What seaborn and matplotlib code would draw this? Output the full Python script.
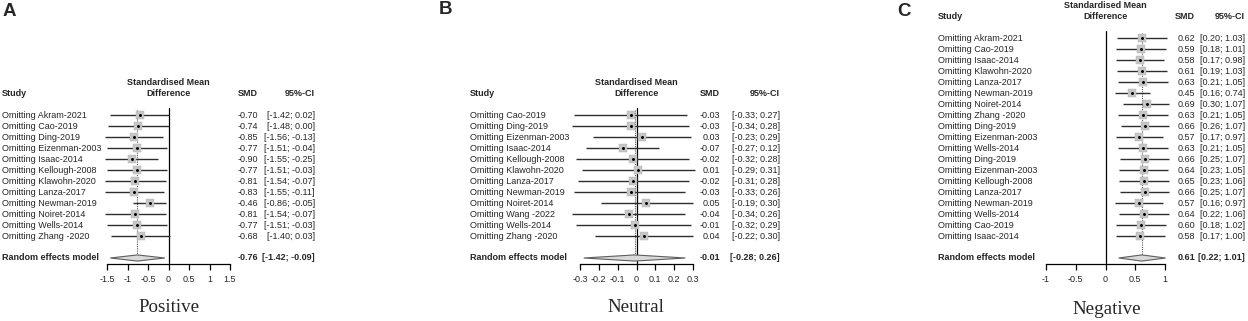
import numpy as np
import pandas as pd
import matplotlib
matplotlib.use("Agg")
import matplotlib.pyplot as plt
import seaborn as sns
from matplotlib.transforms import blended_transform_factory

# ---------------- data ----------------
a_studies = ["Akram-2021", "Cao-2019", "Ding-2019", "Eizenman-2003", "Isaac-2014",
             "Kellough-2008", "Klawohn-2020", "Lanza-2017", "Newman-2019",
             "Noiret-2014", "Wells-2014", "Zhang -2020"]
a_smd = [-0.70, -0.74, -0.85, -0.77, -0.90, -0.77, -0.81, -0.83, -0.46, -0.81, -0.77, -0.68]
a_lo = [-1.42, -1.48, -1.56, -1.51, -1.55, -1.51, -1.54, -1.55, -0.86, -1.54, -1.51, -1.40]
a_hi = [0.02, 0.00, -0.13, -0.04, -0.25, -0.03, -0.07, -0.11, -0.05, -0.07, -0.03, 0.03]
a_pooled = [-0.76, -1.42, -0.09]
a_ticks = [-1.5, -1, -0.5, 0, 0.5, 1, 1.5]

b_studies = ["Cao-2019", "Ding-2019", "Eizenman-2003", "Isaac-2014", "Kellough-2008",
             "Klawohn-2020", "Lanza-2017", "Newman-2019", "Noiret-2014", "Wang -2022",
             "Wells-2014", "Zhang -2020"]
b_smd = [-0.03, -0.03, 0.03, -0.07, -0.02, 0.01, -0.02, -0.03, 0.05, -0.04, -0.01, 0.04]
b_lo = [-0.33, -0.34, -0.23, -0.27, -0.32, -0.29, -0.31, -0.33, -0.19, -0.34, -0.32, -0.22]
b_hi = [0.27, 0.28, 0.29, 0.12, 0.28, 0.31, 0.28, 0.26, 0.30, 0.26, 0.29, 0.30]
b_pooled = [-0.01, -0.28, 0.26]
b_ticks = [-0.3, -0.2, -0.1, 0, 0.1, 0.2, 0.3]

c_studies = ["Akram-2021", "Cao-2019", "Isaac-2014", "Klawohn-2020", "Lanza-2017",
             "Newman-2019", "Noiret-2014", "Zhang -2020", "Ding-2019", "Eizenman-2003",
             "Wells-2014", "Ding-2019", "Eizenman-2003", "Kellough-2008", "Lanza-2017",
             "Newman-2019", "Wells-2014", "Cao-2019", "Isaac-2014"]
c_smd = [0.62, 0.59, 0.58, 0.61, 0.63, 0.45, 0.69, 0.63, 0.66, 0.57,
         0.63, 0.66, 0.64, 0.65, 0.66, 0.57, 0.64, 0.60, 0.58]
c_lo = [0.20, 0.18, 0.17, 0.19, 0.21, 0.16, 0.30, 0.21, 0.26, 0.17,
        0.21, 0.25, 0.23, 0.23, 0.25, 0.16, 0.22, 0.18, 0.17]
c_hi = [1.03, 1.01, 0.98, 1.03, 1.05, 0.74, 1.07, 1.05, 1.07, 0.97,
        1.05, 1.07, 1.05, 1.06, 1.07, 0.97, 1.06, 1.02, 1.00]
c_pooled = [0.61, 0.22, 1.01]
c_ticks = [-1, -0.5, 0, 0.5, 1]

panel_titles = ["Positive", "Neutral", "Negative"]
panel_letters = ["A", "B", "C"]

# ---------------- layout (pixels) ----------------
W, H = 1248, 321
sns.set_theme(style="white")
plt.rcParams['font.family'] = ['Liberation Sans', 'DejaVu Sans']
SERIF = ['Liberation Serif', 'DejaVu Serif']

fig = plt.figure(figsize=(W / 100, H / 100), dpi=100)
renderer = fig.canvas.get_renderer()


def fit_size(text, target_px, family=None, weight='normal', base=10.0):
    kw = dict(fontsize=base, fontweight=weight)
    if family is not None:
        kw['family'] = family
    t = fig.text(0, 0, text, **kw)
    w = t.get_window_extent(renderer=renderer).width
    t.remove()
    return base * target_px / w


FS = fit_size("Omitting Akram-2021", 85)
FSB = fit_size("Standardised Mean", 83, weight='bold')
FT = fit_size("Negative", 69, family=SERIF)

layouts = [
    dict(x0=107, x1=230, first_y=115, label_x=2, smd_x=258, ci_x=315,
         letter_xy=(9, 12), title_xy=(169, 308)),
    dict(x0=580, x1=693, first_y=115, label_x=470, smd_x=720, ci_x=780,
         letter_xy=(446, 10), title_xy=(636, 308)),
    dict(x0=1046, x1=1165, first_y=38, label_x=938, smd_x=1195, ci_x=1245,
         letter_xy=(904, 11), title_xy=(1107, 309)),
]

ROW = 11.0
TOP, BOT = -0.6, 1.5


def draw(studies, smd, lo, hi, pooled, ticks, title, letter, lay):
    n = len(studies)
    ytop_px = lay['first_y'] + TOP * ROW
    ybot_px = lay['first_y'] + (n + BOT) * ROW
    ax = fig.add_axes([lay['x0'] / W, 1 - ybot_px / H,
                       (lay['x1'] - lay['x0']) / W, (ybot_px - ytop_px) / H])
    ax.set_xlim(ticks[0], ticks[-1])
    ax.set_ylim(n + BOT, TOP)
    ax.patch.set_alpha(0)

    df = pd.DataFrame(dict(study=studies, smd=smd, lo=lo, hi=hi, row=np.arange(n)))

    ax.axvline(0, color='black', lw=0.9, zorder=1)
    ax.vlines(pooled[0], -0.5, n + 1, colors='#555555',
              linestyles=(0, (1, 1)), lw=0.8, zorder=1)
    ax.hlines(df['row'], df['lo'], df['hi'], color='#2e2e2e', lw=1.0,
              clip_on=False, zorder=2)
    sns.scatterplot(data=df, x='smd', y='row', marker='s', s=38, color='#c6c6c6',
                    edgecolor='#b0b0b0', linewidth=0.3, ax=ax, zorder=3,
                    legend=False, clip_on=False)
    ax.scatter(df['smd'], df['row'], s=1.3, color='black', zorder=4, clip_on=False)

    est, plo, phi = pooled
    yd = n + 1
    ax.fill([plo, est, phi, est], [yd, yd - 0.28, yd, yd + 0.28],
            facecolor='#d9d9d9', edgecolor='#5e5e5e', lw=0.8, zorder=3, clip_on=False)

    for s in ['top', 'left', 'right']:
        ax.spines[s].set_visible(False)
    ax.spines['bottom'].set_bounds(ticks[0], ticks[-1])
    ax.spines['bottom'].set_color('black')
    ax.spines['bottom'].set_linewidth(0.9)
    ax.set_xticks(ticks)
    ax.set_xticklabels([f"{t:g}" for t in ticks])
    ax.set_yticks([])
    ax.set_xlabel('')
    ax.set_ylabel('')
    ax.tick_params(axis='x', direction='out', length=4, width=0.9, pad=4.5,
                   labelsize=FS, bottom=True, color='black')

    tr = blended_transform_factory(fig.transFigure, ax.transData)
    tra = blended_transform_factory(ax.transAxes, ax.transData)
    lx, sx, cx = lay['label_x'] / W, lay['smd_x'] / W, lay['ci_x'] / W
    for i, r in df.iterrows():
        ax.text(lx, r['row'], f"Omitting {r['study']}", transform=tr,
                ha='left', va='center', fontsize=FS)
        ax.text(sx, r['row'], f"{r['smd']:.2f}", transform=tr,
                ha='right', va='center', fontsize=FS)
        ax.text(cx, r['row'], f"[{r['lo']:.2f}; {r['hi']:.2f}]", transform=tr,
                ha='right', va='center', fontsize=FS)
    ax.text(lx, yd, "Random effects model", transform=tr, ha='left', va='center',
            fontsize=FSB, fontweight='bold')
    ax.text(sx, yd, f"{est:.2f}", transform=tr, ha='right', va='center',
            fontsize=FSB, fontweight='bold')
    ax.text(cx, yd, f"[{plo:.2f}; {phi:.2f}]", transform=tr, ha='right',
            va='center', fontsize=FSB, fontweight='bold')

    hy = -2.0
    ax.text(lx, hy, "Study", transform=tr, ha='left', va='center', fontsize=FSB,
            fontweight='bold')
    ax.text(sx, hy, "SMD", transform=tr, ha='right', va='center', fontsize=FSB,
            fontweight='bold')
    ax.text(cx, hy, "95%-CI", transform=tr, ha='right', va='center', fontsize=FSB,
            fontweight='bold')
    ax.text(0.5, hy - 0.95, "Standardised Mean", transform=tra, ha='center',
            va='center', fontsize=FSB, fontweight='bold')
    ax.text(0.5, hy, "Difference", transform=tra, ha='center', va='center',
            fontsize=FSB, fontweight='bold')

    lxp, lyp = lay['letter_xy']
    fig.text(lxp / W, 1 - lyp / H, letter, ha='center', va='center',
             fontsize=13.5, fontweight='bold')
    txp, typ = lay['title_xy']
    fig.text(txp / W, 1 - typ / H, title, ha='center', va='center',
             fontsize=FT, family=SERIF)


data = [
    (a_studies, a_smd, a_lo, a_hi, a_pooled, a_ticks),
    (b_studies, b_smd, b_lo, b_hi, b_pooled, b_ticks),
    (c_studies, c_smd, c_lo, c_hi, c_pooled, c_ticks),
]
for (st, sm, lo, hi, po, tk), title, letter, lay in zip(data, panel_titles,
                                                        panel_letters, layouts):
    draw(st, sm, lo, hi, po, tk, title, letter, lay)

fig.savefig("out.png", dpi=100)
